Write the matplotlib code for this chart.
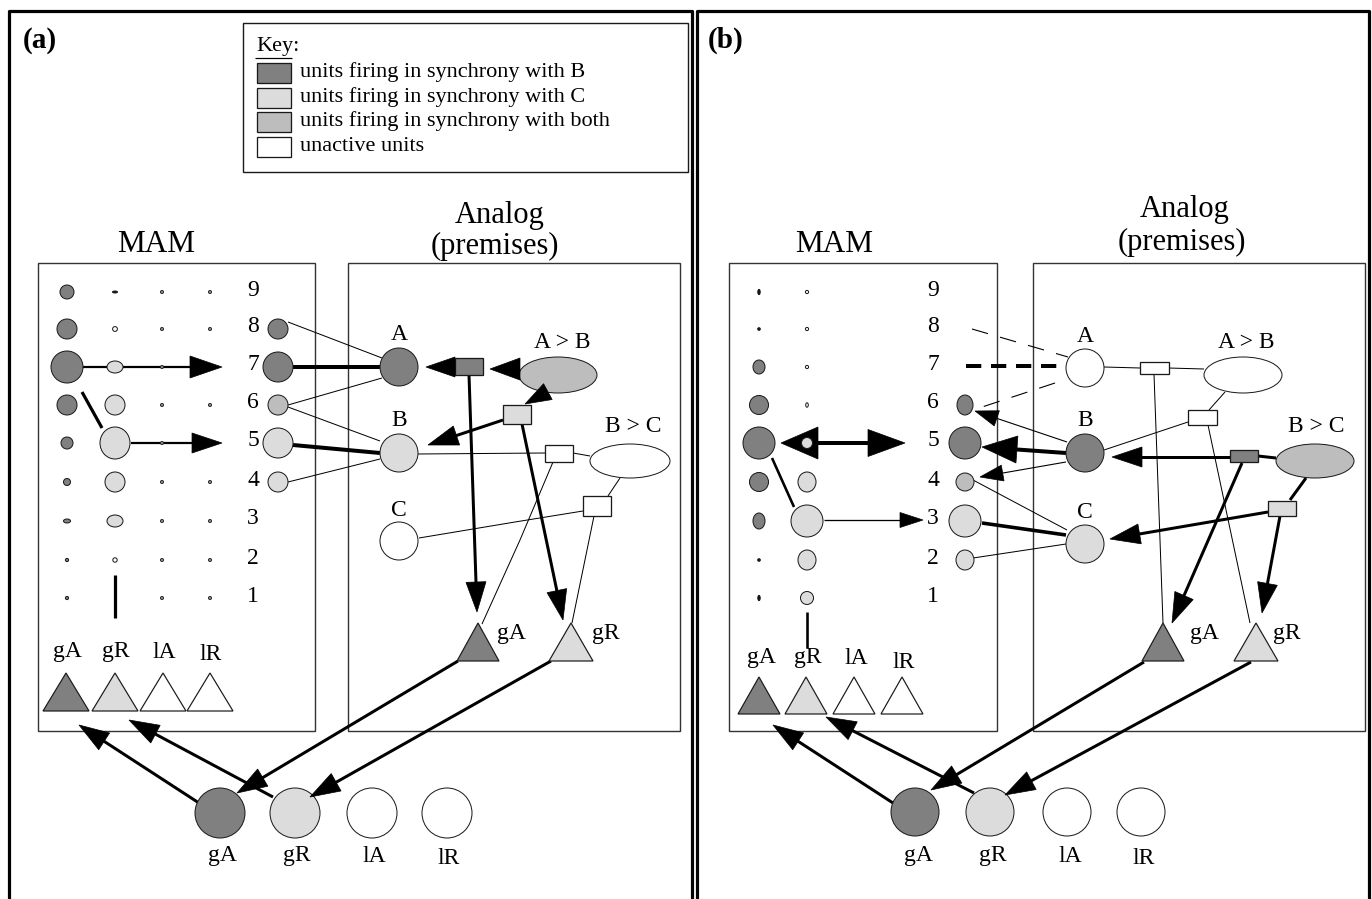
import numpy as np
import matplotlib
matplotlib.use("Agg")
import matplotlib.pyplot as plt
from matplotlib.patches import Ellipse, Rectangle, Polygon

plt.rcParams['font.family'] = ['Liberation Serif', 'DejaVu Serif']
plt.rcParams['lines.scale_dashes'] = False

DARK = '#808080'
LIGHT = '#dcdcdc'
MID = '#bdbdbd'
WHITE = '#ffffff'
EDGE = '#1a1a1a'

# --- data: MAM unit activations (rx, ry) per row 9..1 ---
rows = [9, 8, 7, 6, 5, 4, 3, 2, 1]
row_y = [292, 329, 367, 405, 443, 482, 521, 560, 598]

a_col1 = [(7, 7), (10, 10), (16, 16), (10, 10), (6, 6), (3.5, 3.5), (3.5, 2), (1.6, 1.6), (1.6, 1.6)]
a_col1_fill = [DARK] * 9
a_col2 = [(2.5, 1), (2.4, 2.4), (8, 6), (10, 10), (15, 16), (10, 10), (8, 6), (2.2, 2.2), (0, 0)]
a_col2_fill = ['#111111', WHITE, LIGHT, LIGHT, LIGHT, LIGHT, LIGHT, WHITE, WHITE]
a_out_rows = [8, 7, 6, 5, 4]
a_out = [(10, 10), (15, 15), (10, 10), (15, 15), (10, 10)]
a_out_fill = [DARK, DARK, MID, LIGHT, LIGHT]

b_col1 = [(1.2, 2.6), (1.3, 1.3), (6, 7), (9.5, 9.5), (16, 16), (9.5, 9.5), (6, 8), (1.3, 1.3), (1.2, 2.6)]
b_col1_fill = ['#111111', '#111111', DARK, DARK, DARK, DARK, DARK, '#111111', '#111111']
b_col2 = [(1.6, 1.6), (1.6, 1.6), (1.6, 1.6), (1.3, 2.2), (5.5, 5.5), (9, 10), (16, 16), (9, 10), (6.5, 6.5)]
b_col2_fill = [WHITE, WHITE, WHITE, WHITE, LIGHT, LIGHT, LIGHT, LIGHT, LIGHT]
b_out_rows = [6, 5, 4, 3, 2]
b_out = [(8, 10), (16, 16), (9, 9), (16, 16), (9, 10)]
b_out_fill = [DARK, DARK, MID, LIGHT, LIGHT]

pred_labels = ['gA', 'gR', 'lA', 'lR']
a_mam_tri_fill = [DARK, LIGHT, WHITE, WHITE]
a_bottom_fill = [DARK, LIGHT, WHITE, WHITE]

key_fills = [DARK, LIGHT, MID, WHITE]
key_labels = ['units firing in synchrony with B',
              'units firing in synchrony with C',
              'units firing in synchrony with both',
              'unactive units']

fig = plt.figure(figsize=(13.72, 8.99), dpi=100)
ax = fig.add_axes([0, 0, 1, 1])
ax.set_xlim(0, 1372)
ax.set_ylim(899, 0)
ax.axis('off')

PX = 0.72  # points per pixel
LBL = 17   # node label size
TTL = 22   # box titles


def circ(x, y, rx, ry, fc, lw=1.0, z=4):
    if rx <= 0:
        return
    ax.add_patch(Ellipse((x, y), 2 * rx, 2 * ry, fc=fc, ec=EDGE, lw=lw * PX, zorder=z))


def rect(x, y, w, h, fc):
    ax.add_patch(Rectangle((x - w / 2, y - h / 2), w, h, fc=fc, ec=EDGE, lw=1.3 * PX, zorder=4))


def tri(x, ya, yb, hw, fc):
    ax.add_patch(Polygon([(x, ya), (x - hw, yb), (x + hw, yb)], closed=True,
                         fc=fc, ec=EDGE, lw=1.2 * PX, zorder=4))


def line(pts, lw=1.0, ls='-', z=2):
    pts = np.array(pts, dtype=float)
    ax.plot(pts[:, 0], pts[:, 1], color='black', lw=lw * PX, ls=ls,
            solid_capstyle='butt', dash_capstyle='butt', zorder=z)


def head(x0, y0, x1, y1, hl, hw, z=5):
    d = np.array([x1 - x0, y1 - y0], dtype=float)
    d /= np.hypot(*d)
    n = np.array([-d[1], d[0]])
    tip = np.array([x1, y1])
    base = tip - d * hl
    ax.add_patch(Polygon([tip, base + n * hw / 2, base - n * hw / 2], closed=True,
                         fc='black', ec='black', lw=0.5, zorder=z))
    return base


def arrow(x0, y0, x1, y1, lw=3.0, hl=30, hw=20):
    base = head(x0, y0, x1, y1, hl, hw)
    line([(x0, y0), tuple(base + (base - np.array([x1, y1])) * -0.05)], lw=lw)


def txt(x, y, s, size=LBL, **kw):
    ax.text(x, y, s, fontsize=size, ha='center', va='center', zorder=6, **kw)


# --- outer frames ---
line([(9, 905), (9, 11), (692, 11), (692, 905)], lw=3.2)
line([(697, 905), (697, 11), (1369, 11), (1369, 905)], lw=3.2)
ax.text(23, 40, '(a)', fontsize=21, fontweight='bold', va='center')
ax.text(708, 40, '(b)', fontsize=21, fontweight='bold', va='center')

# --- key ---
ax.add_patch(Rectangle((243, 23), 445, 149, fc='none', ec=EDGE, lw=1.4 * PX, zorder=3))
ax.text(256, 46, 'Key:', fontsize=16, va='center')
line([(255, 58), (292, 58)], lw=1.2)
for i, (fc, lab) in enumerate(zip(key_fills, key_labels)):
    yk = 73 + 24.7 * i
    ax.add_patch(Rectangle((257, yk - 10), 34, 20, fc=fc, ec=EDGE, lw=1.3 * PX, zorder=4))
    ax.text(300, yk - 1, lab, fontsize=16, va='center')

# ================= panel (a) =================
ax.add_patch(Rectangle((38, 263), 277, 468, fc='none', ec='#333333', lw=1.4 * PX, zorder=1))
ax.add_patch(Rectangle((348, 263), 332, 468, fc='none', ec='#333333', lw=1.4 * PX, zorder=1))
ax.text(156, 252, 'MAM', fontsize=22.5, ha='center', va='baseline')
ax.text(500, 223, 'Analog', fontsize=TTL, ha='center', va='baseline')
ax.text(495, 254, '(premises)', fontsize=TTL, ha='center', va='baseline')

a_cols = [67, 115, 162, 210]
for k, y in enumerate(row_y):
    circ(a_cols[0], y, *a_col1[k], a_col1_fill[k])
    circ(a_cols[1], y, *a_col2[k], a_col2_fill[k])
    circ(a_cols[2], y, 1.6, 1.6, '#888888', lw=0.8)
    circ(a_cols[3], y, 1.6, 1.6, '#888888', lw=0.8)
    txt(253, y - 2, str(rows[k]))
for r, s, fc in zip(a_out_rows, a_out, a_out_fill):
    circ(278, row_y[rows.index(r)], *s, fc)

line([(115, 575), (115, 618)], lw=3.2)
line([(82, 392), (102, 428)], lw=3.2)
arrow(83, 367, 222, 367, lw=2.2, hl=32, hw=22)
arrow(131, 443, 222, 443, lw=2.2, hl=30, hw=20)

# MAM -> analog connections
line([(288, 322), (382, 358)], lw=1.0)
line([(293, 367), (380, 367)], lw=4.0)
line([(288, 405), (382, 378)], lw=1.0)
line([(288, 407), (380, 441)], lw=1.0)
line([(293, 445), (380, 453)], lw=4.0)
line([(288, 482), (380, 459)], lw=1.0)

# analog nodes (a)
circ(399, 367, 19, 19, DARK)
circ(399, 453, 19, 19, LIGHT)
circ(399, 541, 19, 19, WHITE)
txt(399, 334, 'A')
txt(399, 421, 'B')
txt(399, 510, 'C')
circ(558, 375, 39, 18, MID)
circ(630, 461, 40, 17, WHITE)
txt(562, 342, 'A > B')
txt(633, 427, 'B > C')
rect(469, 366, 28, 17, DARK)
rect(517, 414, 28, 19, LIGHT)
rect(559, 453, 28, 17, WHITE)
rect(597, 506, 28, 20, WHITE)

head(520, 369, 490, 369, 30, 22)
head(455, 367, 426, 367, 29, 20)
head(549, 391, 525, 404, 26, 18)
arrow(503, 420, 428, 445, lw=3.0, hl=30, hw=20)
arrow(469, 375, 477, 612, lw=3.0, hl=30, hw=20)
arrow(522, 424, 563, 620, lw=3.0, hl=30, hw=20)

line([(418, 454), (545, 453)], lw=1.0)
line([(573, 453), (590, 456)], lw=1.0)
line([(620, 478), (608, 496)], lw=1.0)
line([(419, 538), (515, 522), (583, 511)], lw=1.0)
line([(553, 462), (520, 540), (482, 624)], lw=1.0)
line([(594, 516), (572, 623)], lw=1.0)

tri(478, 623, 661, 21, DARK)
tri(571, 623, 661, 22, LIGHT)
txt(511, 634, 'gA')
txt(606, 634, 'gR')

# MAM predicate triangles (a)
a_tri_x = [66, 115, 163, 210]
for x, lab, fc in zip(a_tri_x, pred_labels, a_mam_tri_fill):
    tri(x, 673, 711, 23, fc)
for x, lab, dy in zip(a_tri_x, pred_labels, [0, 0, 2, 4]):
    txt(x + 1, 651 + dy, lab)

# bottom predicate units (a)
a_bot_x = [220, 295, 372, 447]
for x, lab, fc in zip(a_bot_x, pred_labels, a_bottom_fill):
    circ(x, 813, 25, 25, fc)
    txt(x + 2, 856 + (3 if lab == 'lR' else 0), lab)

arrow(458, 661, 237, 793, lw=3.0, hl=30, hw=20)
arrow(551, 661, 310, 797, lw=3.0, hl=30, hw=20)
arrow(199, 803, 79, 725, lw=3.0, hl=30, hw=20)
arrow(273, 797, 129, 720, lw=3.0, hl=30, hw=20)

# ================= panel (b) =================
ax.add_patch(Rectangle((729, 263), 268, 468, fc='none', ec='#333333', lw=1.4 * PX, zorder=1))
ax.add_patch(Rectangle((1033, 263), 332, 468, fc='none', ec='#333333', lw=1.4 * PX, zorder=1))
ax.text(834, 252, 'MAM', fontsize=22.5, ha='center', va='baseline')
ax.text(1185, 217, 'Analog', fontsize=TTL, ha='center', va='baseline')
ax.text(1182, 250, '(premises)', fontsize=TTL, ha='center', va='baseline')

b_cols = [759, 807]
for k, y in enumerate(row_y):
    circ(b_cols[0], y, *b_col1[k], b_col1_fill[k])
    circ(b_cols[1], y, *b_col2[k], b_col2_fill[k], z=6)
    txt(933, y - 2, str(rows[k]))
for r, s, fc in zip(b_out_rows, b_out, b_out_fill):
    circ(965, row_y[rows.index(r)], *s, fc)

line([(807, 612), (807, 648)], lw=2.6)
line([(772, 458), (794, 507)], lw=2.6)
head(818, 443, 781, 443, 37, 32)
head(868, 443, 905, 443, 37, 27)
line([(816, 443), (870, 443)], lw=4.0)
arrow(824, 520, 923, 520, lw=1.3, hl=23, hw=15)

# dashed MAM <-> analog (b)
line([(972, 329), (1068, 357)], lw=1.1, ls=(0, (12, 9)))
line([(966, 366), (1066, 366)], lw=4.0, ls=(0, (11, 7)))
line([(1055, 383), (973, 410)], lw=1.1, ls=(0, (12, 9)))

arrow(1067, 442, 975, 411, lw=1.1, hl=23, hw=16)
arrow(1066, 453, 982, 447, lw=4.0, hl=35, hw=27)
arrow(1066, 462, 980, 477, lw=1.1, hl=23, hw=16)
line([(973, 480), (1067, 530)], lw=1.0)
line([(982, 523), (1066, 535)], lw=3.6)
line([(973, 558), (1066, 544)], lw=1.0)

circ(1085, 368, 19, 19, WHITE)
circ(1085, 453, 19, 19, DARK)
circ(1085, 544, 19, 19, LIGHT)
txt(1085, 336, 'A')
txt(1085, 421, 'B')
txt(1085, 512, 'C')
circ(1243, 375, 39, 18, WHITE)
circ(1315, 461, 39, 17, MID)
txt(1246, 342, 'A > B')
txt(1316, 427, 'B > C')
rect(1154, 368, 29, 12, WHITE)
rect(1202, 417, 29, 15, WHITE)
rect(1244, 456, 28, 12, DARK)
rect(1282, 508, 28, 15, LIGHT)

line([(1104, 367), (1140, 368)], lw=1.0)
line([(1168, 368), (1204, 369)], lw=1.0)
line([(1225, 392), (1209, 410)], lw=1.0)
line([(1188, 422), (1104, 450)], lw=1.0)
line([(1154, 374), (1163, 623)], lw=1.0)
line([(1208, 425), (1250, 623)], lw=1.0)
line([(1258, 456), (1276, 458)], lw=3.0)
line([(1306, 478), (1290, 500)], lw=3.0)

arrow(1230, 457, 1112, 457, lw=3.0, hl=30, hw=20)
arrow(1242, 463, 1172, 623, lw=3.0, hl=30, hw=20)
arrow(1268, 512, 1110, 539, lw=3.0, hl=30, hw=20)
arrow(1280, 516, 1262, 613, lw=3.0, hl=30, hw=20)

tri(1163, 623, 661, 21, DARK)
tri(1256, 623, 661, 22, LIGHT)
txt(1204, 634, 'gA')
txt(1287, 634, 'gR')

b_tri_x = [759, 806, 854, 902]
for x, lab, fc in zip(b_tri_x, pred_labels, a_mam_tri_fill):
    tri(x, 677, 714, 21, fc)
for x, lab, dy in zip(b_tri_x, pred_labels, [0, 0, 0, 4]):
    txt(x + 2, 658 + dy, lab)

b_bot_x = [915, 990, 1067, 1141]
for x, lab, fc in zip(b_bot_x, pred_labels, a_bottom_fill):
    circ(x, 812, 24, 24, fc)
    txt(x + 3, 856 + (3 if lab == 'lR' else 0), lab)

arrow(1144, 662, 931, 790, lw=3.0, hl=30, hw=20)
arrow(1251, 662, 1005, 795, lw=3.0, hl=30, hw=20)
arrow(893, 803, 773, 725, lw=3.0, hl=30, hw=20)
arrow(974, 793, 826, 717, lw=3.0, hl=30, hw=20)

fig.savefig('out.png', dpi=100, facecolor='white')
